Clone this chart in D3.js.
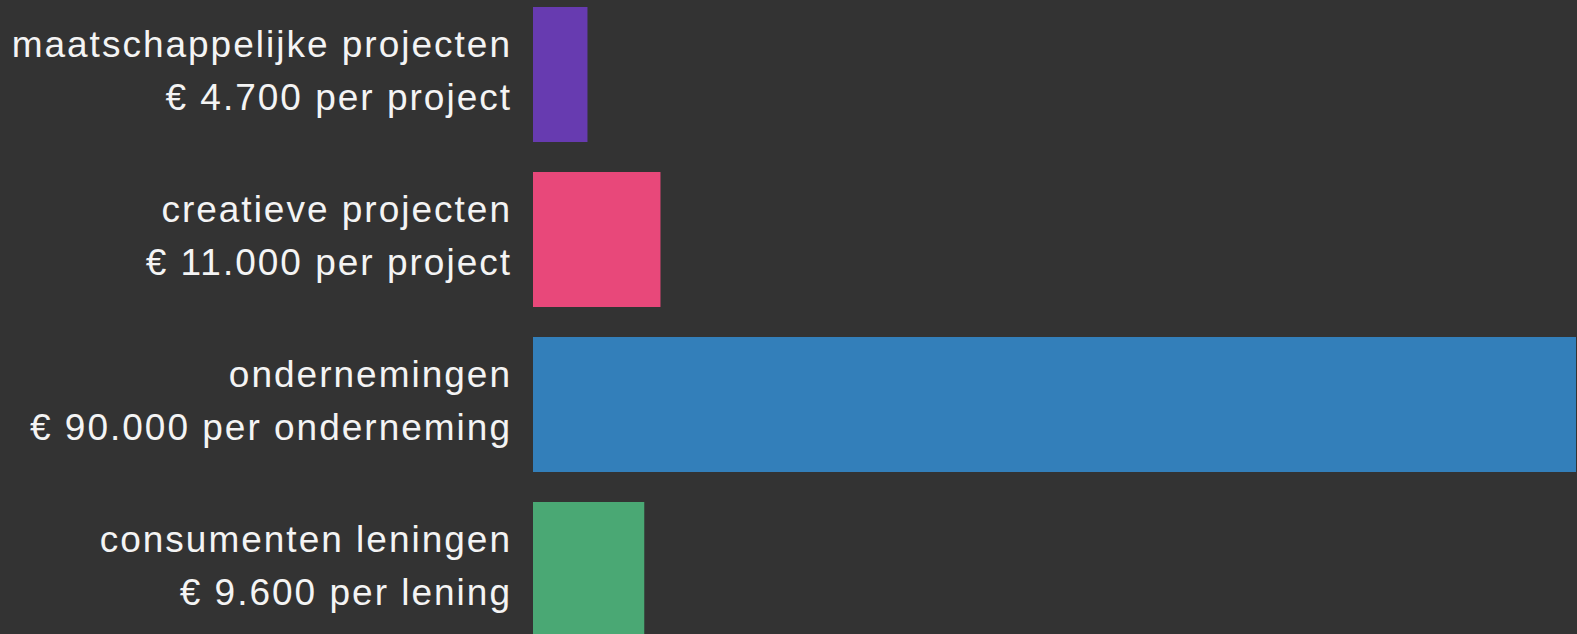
<!DOCTYPE html>
<html>
<head>
<meta charset="utf-8">
<script src="https://cdn.jsdelivr.net/npm/d3@7"></script>
<style>
  html, body { margin: 0; padding: 0; background: #333333; overflow: hidden; }
  svg { display: block; }
</style>
</head>
<body>
<svg id="chart" width="1577" height="634"></svg>
<script>
const categories = ["maatschappelijke projecten", "creatieve projecten", "ondernemingen", "consumenten leningen"];
const subLabels = ["€ 4.700 per project", "€ 11.000 per project", "€ 90.000 per onderneming", "€ 9.600 per lening"];
const values = [4700, 11000, 90000, 9600];
const colors = ["#673bb0", "#e8487a", "#337fba", "#4aa874"];

const svg = d3.select("#chart");
const W = 1577, H = 634;

const x = d3.scaleLinear().domain([0, 90000]).range([533, 1576]);
const pad = 30 / 165;
const y = d3.scaleBand().domain(categories).range([-8, 652]).paddingInner(pad).paddingOuter(pad / 2);

svg.append("rect").attr("width", W).attr("height", H).attr("fill", "#333333");

const g = svg.selectAll("g.bar").data(categories).join("g").attr("class", "bar");

g.append("rect")
  .attr("x", x(0))
  .attr("y", d => y(d))
  .attr("width", (d, i) => x(values[i]) - x(0))
  .attr("height", y.bandwidth())
  .attr("fill", (d, i) => colors[i]);

const ls = 2;
const lbl = g.append("text")
  .attr("text-anchor", "end")
  .attr("fill", "#f4f4f4")
  .style("font-family", "'Liberation Sans', Arial, Helvetica, sans-serif")
  .style("font-size", "37px")
  .style("letter-spacing", ls + "px");

lbl.append("tspan")
  .attr("x", 510 + ls)
  .attr("y", d => y(d) + y.bandwidth() / 2 - 18)
  .text(d => d);

lbl.append("tspan")
  .attr("x", 510 + ls)
  .attr("y", d => y(d) + y.bandwidth() / 2 + 35)
  .text((d, i) => subLabels[i]);
</script>
</body>
</html>
